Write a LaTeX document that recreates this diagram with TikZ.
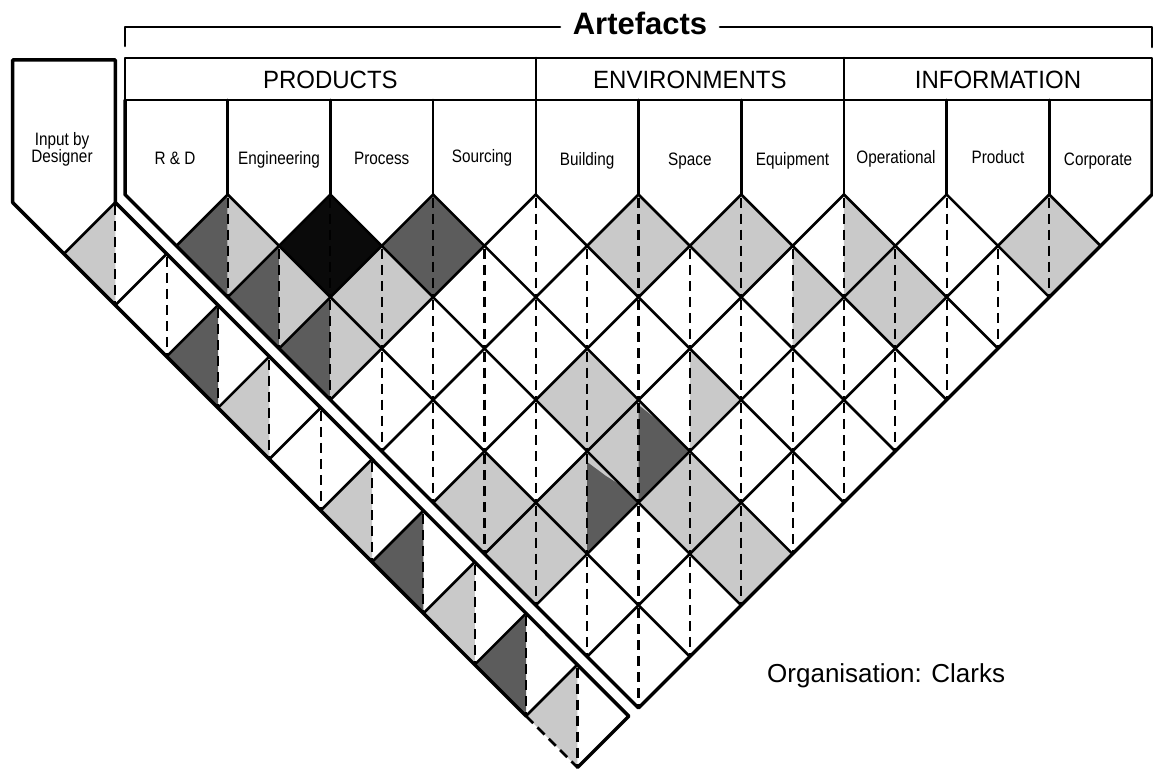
\documentclass[tikz,border=0pt]{standalone}
\usepackage{fontspec}
\setmainfont{Liberation Sans}
\newfontfamily\narrowfont[FakeStretch=0.85]{Liberation Sans}
\newfontfamily\headfont[FakeStretch=0.96]{Liberation Sans}
\definecolor{lt}{gray}{0.79}
\definecolor{dk}{gray}{0.36}
\definecolor{bk}{gray}{0.04}
% main grid diamond halves: m = column-sum index, n = row
\newcommand\dmL[3]{\fill[#3] ({125+51.35*(#1)},{194.5+51.35*(#2-1)}) -- ({125+51.35*(#1-1)},{194.5+51.35*(#2)}) -- ({125+51.35*(#1)},{194.5+51.35*(#2+1)}) -- cycle;}
\newcommand\dmR[3]{\fill[#3] ({125+51.35*(#1)},{194.5+51.35*(#2-1)}) -- ({125+51.35*(#1+1)},{194.5+51.35*(#2)}) -- ({125+51.35*(#1)},{194.5+51.35*(#2+1)}) -- cycle;}
\newcommand\dmF[3]{\fill[#3] ({125+51.35*(#1)},{194.5+51.35*(#2-1)}) -- ({125+51.35*(#1+1)},{194.5+51.35*(#2)}) -- ({125+51.35*(#1)},{194.5+51.35*(#2+1)}) -- ({125+51.35*(#1-1)},{194.5+51.35*(#2)}) -- cycle;}
% strip diamond left half
\newcommand\stL[2]{\fill[#2] ({115.3+51.35*(#1)},{202.45+51.35*(#1)}) -- ({63.95+51.35*(#1)},{253.8+51.35*(#1)}) -- ({115.3+51.35*(#1)},{305.15+51.35*(#1)}) -- cycle;}
\begin{document}
\begin{tikzpicture}[x=1pt,y=-1pt,
  gridline/.style={line width=2.6pt, line cap=round, line join=round},
  outerline/.style={line width=3.5pt, line cap=round, line join=round},
  dashline/.style={line width=2.1pt, dash pattern=on 10pt off 6pt, dash phase=13pt},
  lbl/.style={font=\narrowfont\fontsize{18}{18}\selectfont, inner sep=0pt, anchor=base},
  hdr/.style={font=\headfont\fontsize{25}{25}\selectfont, inner sep=0pt, anchor=base}]
\useasboundingbox (0,0) rectangle (1153,773);
\fill[white] (0,0) rectangle (1153,773);

% ---------- shading of main matrix ----------
% row 1
\dmL{2}{1}{dk} \dmR{2}{1}{lt}
\dmF{4}{1}{bk}
\dmF{6}{1}{dk}
\dmF{10}{1}{lt}
\dmF{12}{1}{lt}
\dmR{14}{1}{lt}
\dmF{18}{1}{lt}
% row 2
\dmL{3}{2}{dk} \dmR{3}{2}{lt}
\dmF{5}{2}{lt}
\dmR{13}{2}{lt}
\dmF{15}{2}{lt}
% row 3
\dmL{4}{3}{dk} \dmR{4}{3}{lt}
% row 4
\dmF{9}{4}{lt}
\dmR{11}{4}{lt}
% row 5
\dmF{10}{5}{lt}
\fill[dk] (638.5,405) -- (653,416.5) -- (667,430) -- (689.85,451.25) -- (638.5,502.6) -- cycle;
% row 6
\dmF{7}{6}{lt}
\dmF{9}{6}{lt}
\fill[dk] (587.15,462) -- (606,476) -- (622,486) -- (638.5,502.6) -- (587.15,553.95) -- cycle;
\dmF{11}{6}{lt}
% row 7
\dmF{8}{7}{lt}
\dmF{12}{7}{lt}

% ---------- shading of designer strip ----------
\stL{0}{lt} \stL{2}{dk} \stL{3}{lt} \stL{5}{lt}
\stL{6}{dk} \stL{7}{lt} \stL{8}{dk} \stL{9}{lt}

% ---------- dashed centre lines ----------
\foreach \n in {1,...,9}{
  \pgfmathtruncatemacro\cnt{9-\n}
  \foreach \i in {0,...,\cnt}{
    \pgfmathsetmacro\xm{125+51.35*(2*\i+\n+1)}
    \pgfmathsetmacro\yt{194.5+51.35*(\n-1)}
    \draw[dashline] (\xm,\yt) -- ++(0,102.7);
  }
}
\foreach \k in {0,...,9}{
  \draw[dashline] ({115.3+51.35*\k},{202.45+51.35*\k}) -- ++(0,102.7);
}

% ---------- grid lines of main matrix ----------
\foreach \k in {1,...,9}{
  \pgfmathsetmacro\xk{125+102.7*\k}
  \pgfmathsetmacro\tr{(1152-\xk)/2}
  \pgfmathsetmacro\tl{(\xk-125)/2}
  \draw[gridline] (\xk,194.5) -- ++(\tr,\tr);
  \draw[gridline] (\xk,194.5) -- ++(-\tl,\tl);
  \draw[gridline] (\xk,100) -- (\xk,194.5);
}
\draw[outerline] (125,100) -- (125,194.5) -- (638.5,708) -- (1152,194.5) -- (1152,100);

% ---------- header ----------
\draw[gridline] (125,58) rectangle (1152,100);
\draw[gridline] (535.8,58) -- (535.8,100);
\draw[gridline] (843.9,58) -- (843.9,100);
\draw[gridline] (125,46) -- (125,27) -- (560,27);
\draw[gridline] (720,27) -- (1152,27) -- (1152,47);

% ---------- designer strip ----------
\draw[outerline] (12.6,202.45) -- (526.15,716.15);
\draw[line width=2.8pt, dash pattern=on 10pt off 6pt] (526.15,716.15) -- (577.5,767.5);
\draw[outerline] (577.5,767.5) -- (628.85,716.15) -- (115.3,202.45) -- (115.3,60) -- (12.6,60) -- (12.6,202.45);
\foreach \k in {0,...,9}{
  \draw[gridline] ({115.3+51.35*\k},{202.45+51.35*\k}) -- ++(-51.35,51.35);
}

% ---------- texts ----------
\node[font=\bfseries\fontsize{31}{31}\selectfont, inner sep=0pt, anchor=base] (art) at (640,34.5) {Artefacts};
\node[hdr] (hp) at (330.4,89) {PRODUCTS};
\node[hdr] (he) at (689.85,89) {ENVIRONMENTS};
\node[hdr] (hi) at (997.95,89) {INFORMATION};
\node[lbl] (in1) at (62,146) {Input by};
\node[lbl] (in2) at (62,162.5) {Designer};
\node[lbl] (c0) at (175,164) {R \& D};
\node[lbl] (c1) at (279.05,164) {Engineering};
\node[lbl] (c2) at (381.75,164) {Process};
\node[lbl] (c3) at (482,162) {Sourcing};
\node[lbl] (c4) at (587.15,165) {Building};
\node[lbl] (c5) at (689.85,165) {Space};
\node[lbl] (c6) at (792.55,165) {Equipment};
\node[lbl] (c7) at (896,163) {Operational};
\node[lbl] (c8) at (997.95,163) {Product};
\node[lbl] (c9) at (1098,165) {Corporate};
\node[font=\fontsize{26}{26}\selectfont, inner sep=0pt, anchor=base west] (org) at (767,682) {Organisation: Clarks};
\end{tikzpicture}
\end{document}
